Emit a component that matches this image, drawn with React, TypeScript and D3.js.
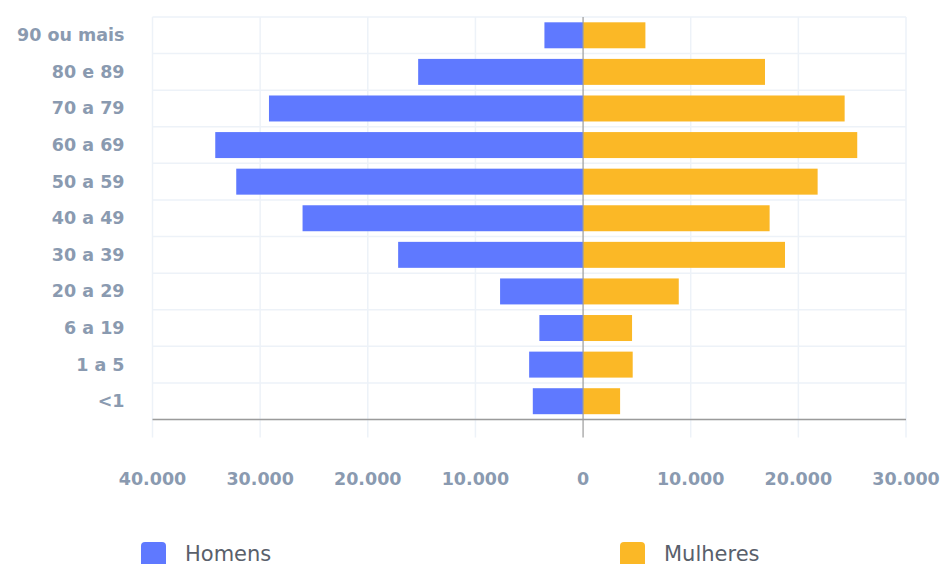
import React from "react";
import * as d3 from "d3";

const categories = ["90 ou mais", "80 e 89", "70 a 79", "60 a 69", "50 a 59", "40 a 49", "30 a 39", "20 a 29", "6 a 19", "1 a 5", "<1"];
const homens = [3590, 15320, 29180, 34170, 32220, 26060, 17180, 7710, 4060, 5010, 4670];
const mulheres = [5790, 16900, 24300, 25470, 21790, 17330, 18760, 8890, 4550, 4610, 3440];
const tickValues = [-40000, -30000, -20000, -10000, 0, 10000, 20000, 30000];
const tickLabels = ["40.000", "30.000", "20.000", "10.000", "0", "10.000", "20.000", "30.000"];
const seriesNames = ["Homens", "Mulheres"];
const seriesColors = ["#5f79ff", "#fbb826"];

const W = 943;
const H = 564;
const FONT = "'DejaVu Sans', sans-serif";

export default function App() {
  const x = d3.scaleLinear().domain([-40000, 30000]).range([152.5, 906]);
  const y = d3.scaleBand<string>().domain(categories).range([17, 419.5]).paddingInner(0.29).paddingOuter(0.145);
  const step = y.step();
  const top = 17;
  const bottom = 419.5;
  const gridColor = "#edf2f8";

  return (
    <svg width={W} height={H} style={{ position: "absolute", left: 0, top: 0, background: "#fff" }}>
      {d3.range(categories.length + 1).map((i) => (
        <line key={"h" + i} x1={x(-40000)} x2={x(30000)} y1={top + i * step} y2={top + i * step} stroke={gridColor} strokeWidth={1.5} />
      ))}
      {tickValues.filter((v) => v !== 0).map((v) => (
        <line key={"v" + v} x1={x(v)} x2={x(v)} y1={top} y2={437.5} stroke={gridColor} strokeWidth={1.5} />
      ))}
      {categories.map((c, i) => (
        <g key={c}>
          <rect x={x(-homens[i])} y={y(c)} width={x(0) - x(-homens[i])} height={y.bandwidth()} fill={seriesColors[0]} />
          <rect x={x(0)} y={y(c)} width={x(mulheres[i]) - x(0)} height={y.bandwidth()} fill={seriesColors[1]} />
        </g>
      ))}
      <line x1={x(-40000)} x2={x(30000)} y1={bottom} y2={bottom} stroke="#9b9b9b" strokeWidth={1.5} />
      <line x1={x(0)} x2={x(0)} y1={top} y2={437.5} stroke="#9b9b9b" strokeWidth={1.2} />
      {categories.map((c) => (
        <text key={"l" + c} x={124.5} y={(y(c) as number) + y.bandwidth() / 2} textAnchor="end" dominantBaseline="central"
          fontFamily={FONT} fontWeight="bold" fontSize={17.5} fill="#8a9ab0">{c}</text>
      ))}
      {tickValues.map((v, i) => (
        <text key={"t" + i} x={x(v)} y={478.5} textAnchor="middle" dominantBaseline="central"
          fontFamily={FONT} fontWeight="bold" fontSize={17.5} fill="#8a9ab0">{tickLabels[i]}</text>
      ))}
      {seriesNames.map((s, i) => {
        const lx = i === 0 ? 141 : 620;
        return (
          <g key={"lg" + s}>
            <rect x={lx} y={542} width={25} height={30} rx={4} fill={seriesColors[i]} />
            <text x={lx + 44} y={561} fontFamily={FONT} fontSize={21} fill="#59606b">{s}</text>
          </g>
        );
      })}
    </svg>
  );
}
